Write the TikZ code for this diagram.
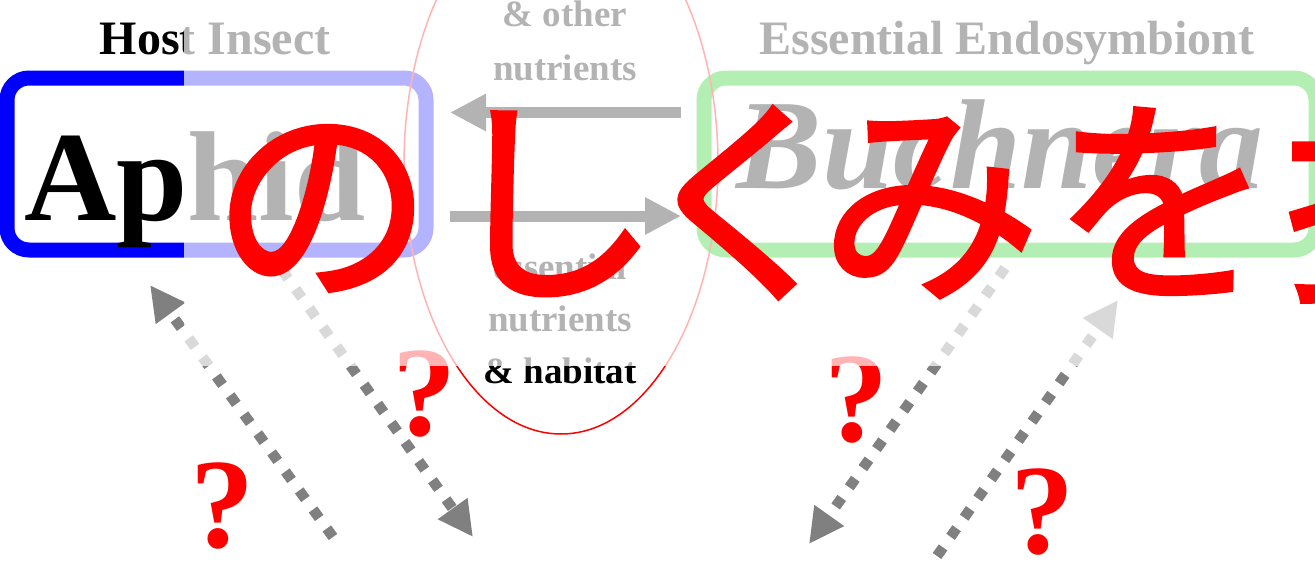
\documentclass[tikz,border=0pt]{standalone}
\usepackage{fontspec}
\setmainfont{Liberation Serif}
\newfontfamily\cjk[FakeBold=2]{Noto Sans CJK JP}
\usetikzlibrary{arrows.meta}
\definecolor{dgray}{RGB}{128,128,128}
\definecolor{bgreen}{RGB}{0,204,0}
\begin{document}
\begin{tikzpicture}[x=1pt,y=-1pt,
  box/.style={draw, line width=15pt, rounded corners=22pt, inner sep=0pt, outer sep=0pt},
  title/.style={font=\bfseries\fontsize{48}{48}\selectfont, inner sep=0pt, anchor=base},
  big/.style={font=\bfseries\fontsize{128}{128}\selectfont, inner sep=0pt, anchor=base},
  mid/.style={font=\bfseries\fontsize{37}{37}\selectfont, inner sep=0pt, anchor=base},
  qmark/.style={font=\bfseries\fontsize{128}{128}\selectfont, text=red, inner sep=0pt, anchor=base},
  garrow/.style={line width=11pt, -{Triangle[length=36pt,width=35pt]}, black},
  darrow/.style={line width=10.5pt, dash pattern=on 10.5pt off 13pt, -{Triangle[length=35pt,width=34pt]}, dgray},
]
\useasboundingbox (0,0) rectangle (1315,562);
\clip (0,0) rectangle (1315,562);

% boxes
\node[box, draw=blue, minimum width=419pt, minimum height=172pt] (aphidbox) at (216.5,164) {};
\node[box, draw=bgreen, minimum width=612pt, minimum height=172pt] (buchbox) at (1010,164) {};

% titles
\node[title] (host) at (215,54) {Host Insect};
\node[title] (endo) at (1007,54) {Essential Endosymbiont};
\node[big, anchor=base west] (aphid) at (24,220) {Aphid};
\node[big, font=\bfseries\itshape\fontsize{128}{128}\selectfont] (buch) at (1000,188) {Buchnera};

% middle labels
\node[mid] (o1) at (565,26) {\& other};
\node[mid] (o2) at (565,80) {nutrients};
\node[mid] (e1) at (560,279) {essential};
\node[mid] (e2) at (560,331) {nutrients};
\node[mid] (e3) at (560,383) {\& habitat};

% ellipse
\draw[red, line width=1.5pt] (561,164) ellipse [x radius=157pt, y radius=270pt];

% exchange arrows
\draw[garrow, shorten <=23pt, shorten >=24pt] ([yshift=51.5pt]buchbox.west) -- ([yshift=51.5pt]aphidbox.east);
\draw[garrow, shorten <=24pt, shorten >=23pt] ([yshift=-52pt]aphidbox.east) -- ([yshift=-52pt]buchbox.west);

% dotted arrows
\coordinate (a1) at (333,537); \coordinate (a2) at (150,285);
\coordinate (b1) at (282,270); \coordinate (b2) at (473,537);
\coordinate (c1) at (1005,268); \coordinate (c2) at (809,544);
\coordinate (d1) at (937,556); \coordinate (d2) at (1118,300);
\draw[darrow] (a1) -- (a2);
\draw[darrow] (b1) -- (b2);
\draw[darrow] (c1) -- (c2);
\draw[darrow] (d1) -- (d2);

% question marks
\node[qmark] (q1) at (424,435) {?};
\node[qmark] (q2) at (222,547) {?};
\node[qmark] (q3) at (856,441) {?};
\node[qmark] (q4) at (1042,553) {?};

% fade overlay
\fill[white, fill opacity=0.7] (184,-5) rectangle (1320,366);

% red japanese text
\node[anchor=base west, inner sep=0pt, text=red, font=\cjk\fontsize{220}{220}\selectfont] (jp) at (212,284) {の\kern8ptし\kern-26ptく\kern-34ptみ\kern12ptを\kern13pt探};
\end{tikzpicture}
\end{document}
